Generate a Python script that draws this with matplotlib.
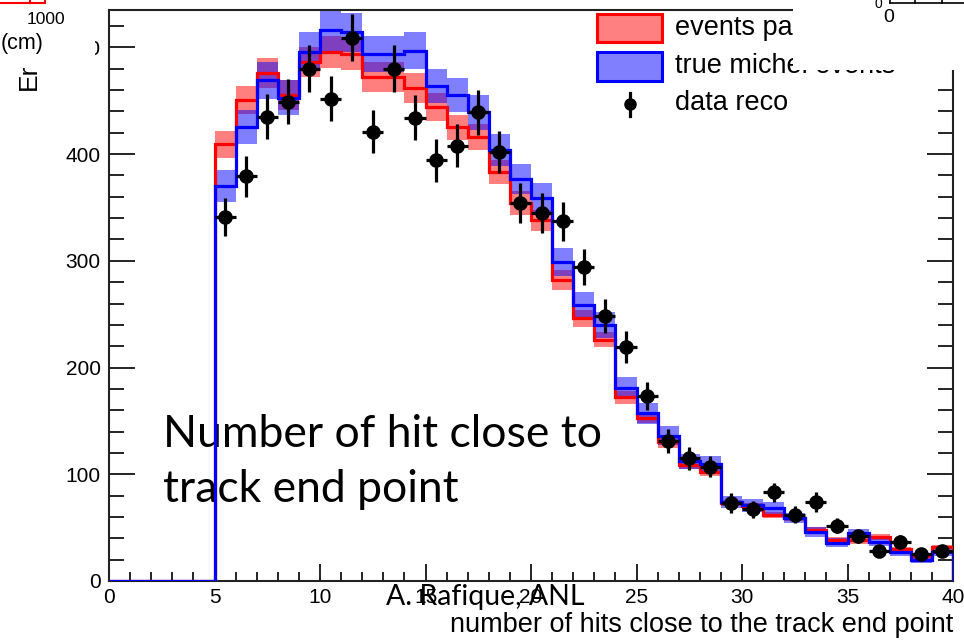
import numpy as np
import matplotlib
matplotlib.use("Agg")
import matplotlib.pyplot as plt
from matplotlib.patches import Rectangle
from matplotlib.lines import Line2D
from matplotlib.ticker import MultipleLocator

plt.rcParams["font.family"] = ["Liberation Sans", "DejaVu Sans"]

# bin edges 0..40, one bin per hit count
edges = np.arange(0, 41)
centers = edges[:-1] + 0.5

# events passing cuts (red) and true michel events (blue), per bin
red_vals = [0, 0, 0, 0, 0,
            409, 451, 476, 455, 486, 496, 494, 472, 472, 462,
            444, 425, 416, 383, 354, 338, 282, 246, 226, 172,
            153, 130, 109, 102, 73, 70, 62, 59, 48, 38,
            38, 41, 30, 23, 32]
red_err = [0, 0, 0, 0, 0,
           13, 13, 14, 14, 14, 15, 15, 14, 14, 14,
           13, 12, 12, 11, 11, 10, 9, 8, 7, 6,
           5, 5, 4, 4, 3, 3, 3, 3, 3, 3,
           3, 3, 2, 2, 2]
blue_vals = [0, 0, 0, 0, 0,
             370, 425, 469, 453, 496, 516, 514, 494, 494, 497,
             464, 455, 439, 404, 377, 359, 299, 259, 240, 181,
             157, 136, 112, 110, 74, 71, 68, 59, 46, 36,
             45, 37, 27, 20, 27]
blue_err = [0, 0, 0, 0, 0,
            15, 16, 17, 16, 18, 19, 18, 17, 17, 17,
            16, 16, 16, 15, 14, 14, 13, 12, 12, 10,
            10, 9, 7, 7, 6, 6, 6, 5, 5, 4,
            4, 4, 4, 3, 4]

# data reco points (bins 5..39)
data_x = centers[5:]
data_y = [341, 379, 435, 449, 480, 452, 509, 421, 480, 434,
          394, 408, 439, 402, 354, 345, 337, 294, 248, 219,
          173, 131, 115, 107, 73, 67, 83, 62, 74, 52,
          42, 28, 37, 25, 28]
data_err = [18, 19, 21, 21, 22, 21, 22, 20, 22, 21,
            20, 20, 21, 20, 19, 19, 18, 17, 16, 15,
            13, 11, 11, 10, 9, 8, 9, 8, 9, 7,
            6, 5, 6, 5, 5]

W, H = 964, 640


def fx(x):
    return x / W


def fy(y):
    return 1 - y / H


fig = plt.figure(figsize=(W / 100, H / 100), dpi=100)
ax = fig.add_axes([fx(109), fy(581), (953 - 109) / W, (581 - 10) / H])

red_vals = np.array(red_vals)
blue_vals = np.array(blue_vals)
red_err = np.array(red_err)
blue_err = np.array(blue_err)

# uncertainty bands
ax.bar(edges[:-1], 2 * red_err, bottom=red_vals - red_err, width=1, align="edge",
       color="#ff0000", alpha=0.5, linewidth=0, zorder=2)
ax.bar(edges[:-1], 2 * blue_err, bottom=blue_vals - blue_err, width=1, align="edge",
       color="#0000ff", alpha=0.5, linewidth=0, zorder=2.1)

# histogram outlines
ax.stairs(red_vals, edges, color="#ff0000", lw=2.3, zorder=3)
ax.stairs(blue_vals, edges, color="#0000ff", lw=2.3, zorder=3.1)

# data points
ax.errorbar(data_x, data_y, yerr=data_err, xerr=0.5, fmt="o", color="black",
            ms=9.5, elinewidth=2.3, capsize=0, zorder=4)

ax.set_xlim(0, 40)
ax.set_ylim(0, 535)
ax.xaxis.set_major_locator(MultipleLocator(5))
ax.xaxis.set_minor_locator(MultipleLocator(1))
ax.yaxis.set_major_locator(MultipleLocator(100))
ax.yaxis.set_minor_locator(MultipleLocator(20))
ax.tick_params(axis="x", which="major", direction="in", length=12, width=1.2,
               labelsize=15, pad=5)
ax.tick_params(axis="x", which="minor", direction="in", length=6.5, width=1.2)
ax.tick_params(axis="y", which="major", direction="in", length=19, width=1.2,
               labelsize=15, pad=6, right=True)
ax.tick_params(axis="y", which="minor", direction="in", length=11, width=1.2,
               right=True)
for s in ax.spines.values():
    s.set_linewidth(1.5)
    s.set_color("#222222")

# slide text sitting under the histogram lines
ax.text(fx(163), fy(462), "Number of hit close to\ntrack end point",
        transform=fig.transFigure, family=["Lato", "DejaVu Sans"], fontsize=32,
        ha="left", va="center", linespacing=1.42, zorder=1)

fig.text(fx(953), fy(625), "number of hits close to the track end point",
         ha="right", va="center", fontsize=19.5)

# legend (cropped in the original)
fig.add_artist(Rectangle((fx(597), fy(42)), 65 / W, 28 / H, transform=fig.transFigure,
                         facecolor=(1, 0.5, 0.5), edgecolor="#ff0000", lw=2.2, zorder=5))
fig.add_artist(Rectangle((fx(597), fy(81)), 65 / W, 29 / H, transform=fig.transFigure,
                         facecolor=(0.5, 0.5, 1), edgecolor="#0000ff", lw=2.2, zorder=5))
fig.add_artist(Line2D([fx(630), fx(630)], [fy(93), fy(116)], transform=fig.transFigure,
                      color="black", lw=2.3, zorder=5))
fig.add_artist(Line2D([fx(630)], [fy(104)], transform=fig.transFigure, marker="o",
                      ms=8, color="black", zorder=5))
fig.text(fx(675), fy(28), "events passing", ha="left", va="center", fontsize=19.5, zorder=5)
fig.text(fx(675), fy(66), "true michel events", ha="left", va="center", fontsize=19.5,
         zorder=5)
fig.text(fx(675), fy(103), "data reco", ha="left", va="center", fontsize=19.5, zorder=5)

# white patches from the pasted screenshot
fig.add_artist(Rectangle((fx(793), fy(70)), (W - 793) / W, 70 / H,
                         transform=fig.transFigure, facecolor="white", edgecolor="none",
                         zorder=10))
fig.add_artist(Rectangle((0, fy(62)), 95 / W, 62 / H, transform=fig.transFigure,
                         facecolor="white", edgecolor="none", zorder=10))

# fragments of other plots
fig.add_artist(Rectangle((fx(-2), fy(3)), 47 / W, 8 / H, transform=fig.transFigure,
                         facecolor="none", edgecolor="#ff0000", lw=1.5, zorder=11))
fig.add_artist(Line2D([fx(30), fx(30)], [fy(0), fy(3)], transform=fig.transFigure,
                      color="#ff0000", lw=1.5, zorder=11))
fig.text(fx(46), fy(19), "1000", ha="center", va="center", fontsize=12.5, zorder=11)
fig.text(fx(22), fy(43), "(cm)", ha="center", va="center", fontsize=15.5, zorder=11)
fig.text(fx(29), fy(77), "Er", ha="center", va="center", fontsize=19, rotation=90,
         zorder=11)
fig.add_artist(Line2D([fx(890), fx(964)], [fy(3), fy(3)], transform=fig.transFigure,
                      color="black", lw=1.2, zorder=11))
for xp in (890, 915, 942):
    fig.add_artist(Line2D([fx(xp), fx(xp)], [fy(0), fy(3)], transform=fig.transFigure,
                          color="black", lw=1.2, zorder=11))
fig.text(fx(878), fy(4), "0", ha="center", va="center", fontsize=10, zorder=11)
fig.text(fx(889), fy(17), "0", ha="center", va="center", fontsize=14, zorder=11)

fig.text(fx(485), fy(597), "A. Rafique, ANL", family=["Lato", "DejaVu Sans"],
         ha="center", va="center", fontsize=20.5, zorder=12)

fig.savefig("out.png", dpi=100)
